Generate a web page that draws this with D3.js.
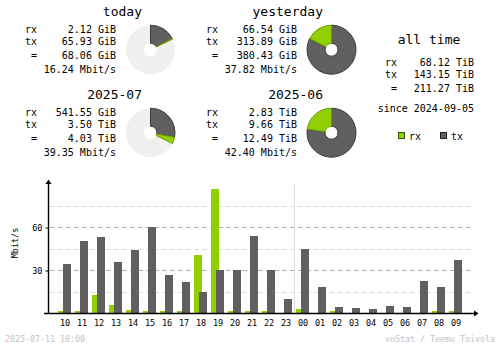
<!DOCTYPE html>
<html>
<head>
<meta charset="utf-8">
<script src="https://cdn.jsdelivr.net/npm/d3@7/dist/d3.min.js"></script>
<style>
  html, body { margin: 0; padding: 0; background: #fff; }
  svg { display: block; }
  text { font-family: "DejaVu Sans Mono", "Liberation Mono", monospace; fill: #000; }
</style>
</head>
<body>
<script>
// ---- hourly traffic (Mbit/s) ----
const hours = ["10","11","12","13","14","15","16","17","18","19","20","21",
               "22","23","00","01","02","03","04","05","06","07","08","09"];
const rxMbit = [1.6, 1.2, 12.8, 5.8, 2.3, 1.6, 1.2, 1.2, 40.7, 86.8, 1.2, 1.2,
                1.6, 0, 3.0, 0, 1.2, 0, 0, 0, 0, 0, 1.2, 1.2];
const txMbit = [34.4, 50.0, 53.3, 35.8, 44.2, 60.2, 26.7, 21.9, 14.9, 30.2, 30.2, 54.0,
                29.8, 10.0, 44.9, 18.4, 4.4, 3.7, 3.0, 5.1, 4.4, 22.6, 18.4, 37.2];
const yTickValues = [30, 60];
const yMinorValues = [15, 45, 75];
const newDayHour = "00";

// ---- summary blocks ----
const summaryTitles = ["today", "yesterday", "2025-07", "2025-06"];
const summaryRx     = ["2.12 GiB", "66.54 GiB", "541.55 GiB", "2.83 TiB"];
const summaryTx     = ["65.93 GiB", "313.89 GiB", "3.50 TiB", "9.66 TiB"];
const summaryTotal  = ["68.06 GiB", "380.43 GiB", "4.03 TiB", "12.49 TiB"];
const summaryRate   = ["16.24 Mbit/s", "37.82 Mbit/s", "39.35 Mbit/s", "42.40 Mbit/s"];
// each pie is scaled against the larger total of its pair
const pieCompareWith = [1, 1, 3, 3];

const allTimeLabels = ["rx", "tx", "="];
const allTimeValues = ["68.12 TiB", "143.15 TiB", "211.27 TiB"];
const allTimeSince  = "since 2024-09-05";
const legendItems   = ["rx", "tx"];

const W = 500, H = 348;
const C = { rx: "#92cf00", rxd: "#6b9a00", tx: "#606060", txd: "#3c3c3c",
            line: "#b0b0b0", linel: "#dcdcdc", pieBg: "#f0f0f0", foot: "#c4c4c4" };

const svg = d3.select("body").append("svg").attr("width", W).attr("height", H);

function toGiB(s) {
  const [v, u] = s.split(" ");
  return +v * (u === "TiB" ? 1024 : u === "MiB" ? 1 / 1024 : 1);
}

// ---- summary blocks with pies ----
const blocks = [
  { x: 25,  yt: 15.5 }, { x: 206, yt: 15.5 },
  { x: 25,  yt: 98.5 }, { x: 206, yt: 98.5 }
];
const arc = d3.arc().innerRadius(6.5).outerRadius(24.5);

summaryTitles.forEach((title, i) => {
  const b = blocks[i];
  const g = svg.append("g");
  g.append("text").attr("x", b.x + 117).attr("y", b.yt)
    .attr("text-anchor", "end").style("font-size", "13px").text(title);

  const rows = [
    { label: "rx", lx: b.x,     value: summaryRx[i],    dy: 17.7 },
    { label: "tx", lx: b.x,     value: summaryTx[i],    dy: 29.7 },
    { label: "=",  lx: b.x + 6, value: summaryTotal[i], dy: 43.2 },
    { label: "",   lx: b.x,     value: summaryRate[i],  dy: 57.6 }
  ];
  rows.forEach(r => {
    g.append("text").attr("x", r.lx).attr("y", b.yt + r.dy)
      .style("font-size", "10px").text(r.label);
    g.append("text").attr("x", b.x + 91).attr("y", b.yt + r.dy)
      .attr("text-anchor", "end").style("font-size", "10px").text(r.value);
  });

  // pie: tx from 12 o'clock clockwise, then rx; size relative to the pair maximum
  const total = toGiB(summaryTotal[i]);
  const ref = Math.max(total, toGiB(summaryTotal[pieCompareWith[i]]));
  const frac = total / ref;
  const txShare = toGiB(summaryTx[i]) / (toGiB(summaryTx[i]) + toGiB(summaryRx[i]));
  const aEnd = frac * 2 * Math.PI;
  const aTx = aEnd * txShare;
  const pie = g.append("g").attr("transform", `translate(${b.x + 125.5},${b.yt + 34.2})`);
  if (frac < 1) {
    pie.append("path").attr("d", arc({ startAngle: 0, endAngle: 2 * Math.PI }))
      .attr("fill", C.pieBg);
  }
  pie.append("path").attr("d", arc({ startAngle: 0, endAngle: aTx }))
    .attr("fill", C.tx).attr("stroke", C.txd).attr("stroke-width", 1);
  pie.append("path").attr("d", arc({ startAngle: aTx, endAngle: aEnd }))
    .attr("fill", C.rx).attr("stroke", C.rxd).attr("stroke-width", 1);
});

// ---- all time ----
const at = svg.append("g");
at.append("text").attr("x", 429).attr("y", 44).attr("text-anchor", "middle")
  .style("font-size", "13px").text("all time");
const atY = [65.7, 77.7, 91.5];
allTimeLabels.forEach((l, i) => {
  at.append("text").attr("x", l === "=" ? 391 : 385).attr("y", atY[i])
    .style("font-size", "10px").text(l);
  at.append("text").attr("x", 474).attr("y", atY[i]).attr("text-anchor", "end")
    .style("font-size", "10px").text(allTimeValues[i]);
});
at.append("text").attr("x", 474).attr("y", 111.8).attr("text-anchor", "end")
  .style("font-size", "10px").text(allTimeSince);

// legend
const legX = [398.5, 440.5];
legendItems.forEach((k, i) => {
  at.append("rect").attr("x", legX[i]).attr("y", 132.5).attr("width", 6).attr("height", 6)
    .attr("fill", C[k]).attr("stroke", k === "rx" ? "#3a5200" : "#202020").attr("stroke-width", 1);
  at.append("text").attr("x", legX[i] + 10.5).attr("y", 139.5)
    .style("font-size", "10px").text(k);
});

// ---- hourly chart ----
const x = d3.scaleBand().domain(hours).range([58, 58 + 17 * hours.length]).padding(0);
const y = d3.scaleLinear().domain([0, 90]).range([313, 184]);
const chart = svg.append("g");

// grid lines
chart.selectAll("line.minor").data(yMinorValues).join("line")
  .attr("x1", 50).attr("x2", 473)
  .attr("y1", d => Math.round(y(d)) + 0.5).attr("y2", d => Math.round(y(d)) + 0.5)
  .attr("stroke", C.linel).attr("stroke-dasharray", "5,3");
chart.selectAll("line.major").data(yTickValues).join("line")
  .attr("x1", 50).attr("x2", 473)
  .attr("y1", d => Math.round(y(d)) + 0.5).attr("y2", d => Math.round(y(d)) + 0.5)
  .attr("stroke", C.line).attr("stroke-dasharray", "5,3");

// day boundary
chart.append("line")
  .attr("x1", x(newDayHour) - 1.5).attr("x2", x(newDayHour) - 1.5)
  .attr("y1", 184).attr("y2", 313).attr("stroke", C.linel);

// bars: rx first, tx overlapping on top
chart.selectAll("rect.rx").data(hours).join("rect")
  .attr("shape-rendering", "crispEdges")
  .attr("x", d => x(d)).attr("width", 8)
  .attr("y", (d, i) => y(rxMbit[i])).attr("height", (d, i) => y(0) - y(rxMbit[i]))
  .attr("fill", C.rx);
chart.selectAll("rect.tx").data(hours).join("rect")
  .attr("shape-rendering", "crispEdges")
  .attr("x", d => x(d) + 5).attr("width", 8)
  .attr("y", (d, i) => y(txMbit[i])).attr("height", (d, i) => y(0) - y(txMbit[i]))
  .attr("fill", C.tx);

// axes
chart.append("line").attr("x1", 48.5).attr("x2", 48.5).attr("y1", 182).attr("y2", 314)
  .attr("stroke", "#000").attr("stroke-width", 1.4);
chart.append("path").attr("d", "M45.5,184 L51.5,184 L48.5,179.5 Z").attr("fill", "#000");
chart.append("line").attr("x1", 44).attr("x2", 475).attr("y1", 313.5).attr("y2", 313.5)
  .attr("stroke", "#000").attr("stroke-width", 1.4);
chart.append("path").attr("d", "M474,310.5 L474,316.5 L478.5,313.5 Z").attr("fill", "#000");

// y ticks and labels
const yAxis = d3.axisLeft(y).tickValues(yTickValues).tickSize(3).tickPadding(3);
const ya = chart.append("g").attr("transform", "translate(48.5,0.5)").call(yAxis);
ya.select(".domain").remove();
ya.selectAll("line").attr("stroke", "#000");
ya.selectAll("text").style("font-size", "8.5px").style("font-family", "DejaVu Sans Mono").attr("fill", "#000");

// x labels
const xAxis = d3.axisBottom(x).tickSize(0).tickPadding(6);
const xa = chart.append("g").attr("transform", "translate(-1.5,314)").call(xAxis);
xa.select(".domain").remove();
xa.selectAll("text").style("font-size", "8.5px").style("font-family", "DejaVu Sans Mono").attr("fill", "#000");

chart.append("text").attr("transform", "translate(17.5,243) rotate(-90)")
  .attr("text-anchor", "middle").style("font-size", "8.5px").text("Mbit/s");

// footer
svg.append("text").attr("x", 5).attr("y", 342).style("font-size", "8.3px")
  .style("fill", C.foot).text("2025-07-11 10:00");
svg.append("text").attr("x", 495).attr("y", 342).attr("text-anchor", "end")
  .style("font-size", "8.3px").style("fill", C.foot).text("vnStat / Teemu Toivola");
</script>
</body>
</html>
